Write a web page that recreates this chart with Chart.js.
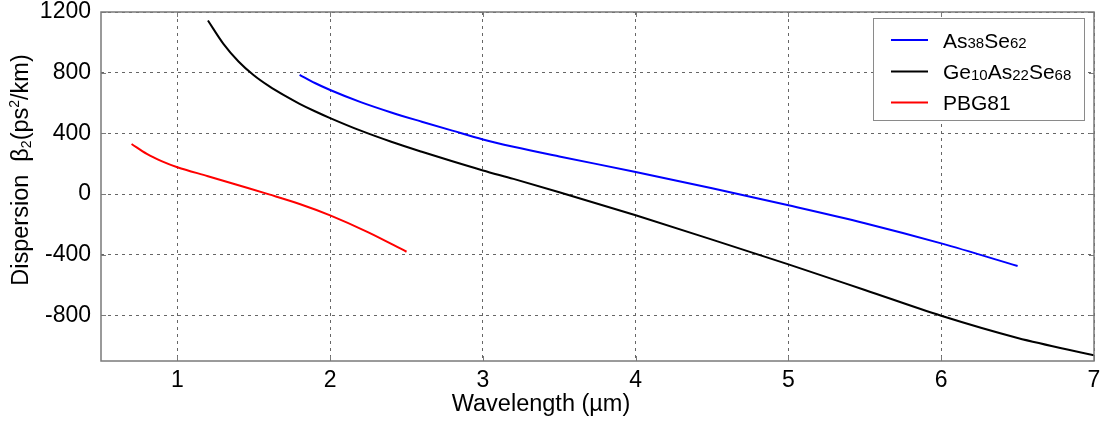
<!DOCTYPE html>
<html>
<head>
<meta charset="utf-8">
<script src="https://cdn.jsdelivr.net/npm/chart.js@4.4.0/dist/chart.umd.min.js"></script>
<style>
	body { margin: 0; background: #fff; }
	#wrap { width: 1101px; height: 433px; }
</style>
</head>
<body>
<div id="wrap"><canvas id="dispersionChart"></canvas></div>
<script>
// As38Se62
const asSeWavelength = [1.8, 1.9, 2.0, 2.2, 2.4, 2.6, 2.8, 3.0, 3.2, 3.5, 4.0, 4.5, 5.0, 5.5, 6.0, 6.5];
const asSeDispersion = [786, 732, 686, 606, 538, 477, 418, 360, 312, 248, 146, 38, -74, -192, -325, -474];

// Ge10As22Se68
const geAsSeWavelength = [1.2, 1.3, 1.4, 1.5, 1.6, 1.7, 1.8, 1.9, 2.0, 2.2, 2.4, 2.6, 2.8, 3.0, 3.2, 3.5, 4.0, 4.5, 5.0, 5.5, 6.0, 6.5, 7.0];
const geAsSeDispersion = [1144, 992, 874, 783, 711, 650, 595, 546, 501, 418, 345, 279, 216, 156, 100, 12, -140, -300, -463, -632, -802, -948, -1062];

// PBG81
const pbgWavelength = [0.7, 0.8, 0.9, 1.0, 1.2, 1.4, 1.6, 1.8, 2.0, 2.25, 2.5];
const pbgDispersion = [330, 265, 216, 177, 118, 58, -2, -65, -140, -252, -380];

// axes
const xTicks = [1, 2, 3, 4, 5, 6, 7];
const yTicks = [-800, -400, 0, 400, 800, 1200];

const seriesNames = ["As38Se62", "Ge10As22Se68", "PBG81"];
const seriesColors = ["#0000ff", "#000000", "#ff0000"];
// legend text pieces, true = subscript
const legendParts = [
	[["As", false], ["38", true], ["Se", false], ["62", true]],
	[["Ge", false], ["10", true], ["As", false], ["22", true], ["Se", false], ["68", true]],
	[["PBG81", false]],
];

const FONT = "'Liberation Sans', Arial, sans-serif";
const FRAME = "#7a7a7a";

function toPoints(xs, ys) {
	return xs.map((x, i) => ({ x: x, y: ys[i] }));
}

// frame, inner ticks, legend and axis titles
const decorations = {
	id: "decorations",
	afterDraw(chart) {
		const ctx = chart.ctx;
		const a = chart.chartArea;
		const xs = chart.scales.x;
		const ys = chart.scales.y;

		ctx.save();
		// small inner ticks
		ctx.strokeStyle = FRAME;
		ctx.lineWidth = 1;
		ctx.beginPath();
		xTicks.forEach((v) => {
			const px = Math.round(xs.getPixelForValue(v)) + 0.5;
			ctx.moveTo(px, a.top); ctx.lineTo(px, a.top + 5);
			ctx.moveTo(px, a.bottom); ctx.lineTo(px, a.bottom - 5);
		});
		yTicks.forEach((v) => {
			const py = Math.round(ys.getPixelForValue(v)) + 0.5;
			ctx.moveTo(a.left, py); ctx.lineTo(a.left + 5, py);
			ctx.moveTo(a.right, py); ctx.lineTo(a.right - 5, py);
		});
		ctx.stroke();

		// frame
		ctx.lineWidth = 1.5;
		ctx.strokeRect(a.left, a.top, a.right - a.left, a.bottom - a.top);

		// legend
		const lx = 873, ly = 18, lw = 211, lh = 102;
		ctx.fillStyle = "#fff";
		ctx.fillRect(lx, ly, lw, lh);
		ctx.strokeStyle = "#8a8a8a";
		ctx.lineWidth = 1;
		ctx.strokeRect(lx + 0.5, ly + 0.5, lw, lh);
		const rowY = [40, 71.5, 102.5];
		legendParts.forEach((parts, i) => {
			const y = rowY[i];
			ctx.strokeStyle = seriesColors[i];
			ctx.lineWidth = 2;
			ctx.beginPath();
			ctx.moveTo(891, y); ctx.lineTo(928, y);
			ctx.stroke();
			let tx = 943;
			ctx.fillStyle = "#000";
			ctx.textBaseline = "alphabetic";
			ctx.textAlign = "left";
			parts.forEach(([t, sub]) => {
				ctx.font = (sub ? "15px " : "21px ") + FONT;
				ctx.fillText(t, tx, y + 7.5 + (sub ? 0.5 : 0));
				tx += ctx.measureText(t).width;
			});
		});

		// x title
		ctx.fillStyle = "#000";
		ctx.font = "23.5px " + FONT;
		ctx.textAlign = "center";
		ctx.textBaseline = "alphabetic";
		ctx.fillText("Wavelength (\u00b5m)", 541, 411);

		// y title, rotated
		const yParts = [
			["Dispersion  \u03b2", 0, 23.5],
			["2", 3, 14],
			["(ps", 0, 23.5],
			["2", -9, 14],
			["/km)", 0, 23.5],
		];
		let total = 0;
		yParts.forEach(([t, off, size]) => {
			ctx.font = size + "px " + FONT;
			total += ctx.measureText(t).width;
		});
		ctx.translate(28, 170);
		ctx.rotate(-Math.PI / 2);
		ctx.textAlign = "left";
		let cx = -total / 2;
		yParts.forEach(([t, off, size]) => {
			ctx.font = size + "px " + FONT;
			ctx.fillText(t, cx, off);
			cx += ctx.measureText(t).width;
		});
		ctx.restore();
	},
};

function drawChart() {
	const ctx = document.getElementById("dispersionChart").getContext("2d");
	const xData = [asSeWavelength, geAsSeWavelength, pbgWavelength];
	const yData = [asSeDispersion, geAsSeDispersion, pbgDispersion];

	new Chart(ctx, {
		type: "scatter",
		data: {
			datasets: seriesNames.map((name, i) => ({
				label: name,
				data: toPoints(xData[i], yData[i]),
				showLine: true,
				borderColor: seriesColors[i],
				backgroundColor: seriesColors[i],
				borderWidth: 2,
				pointRadius: 0,
				cubicInterpolationMode: "monotone",
			})),
		},
		options: {
			responsive: true,
			maintainAspectRatio: false,
			animation: false,
			layout: { padding: { top: 12, right: 7, left: 0, bottom: 0 } },
			plugins: {
				legend: { display: false },
				tooltip: { enabled: false },
			},
			scales: {
				x: {
					type: "linear",
					min: 0.5,
					max: 7,
					afterBuildTicks: (s) => { s.ticks = xTicks.map((v) => ({ value: v })); },
					afterFit: (s) => {
						s.height = 72;
						s.paddingLeft = 0;
						s.paddingRight = 0;
					},
					ticks: {
						color: "#000",
						padding: 8,
						font: { family: FONT, size: 23, lineHeight: 1 },
						callback: (v) => String(v),
					},
					grid: { color: "#666", lineWidth: 1, drawTicks: false },
					border: { display: false, dash: [3, 4] },
				},
				y: {
					type: "linear",
					min: -1100,
					max: 1200,
					afterBuildTicks: (s) => { s.ticks = yTicks.map((v) => ({ value: v })); },
					afterFit: (s) => {
						s.width = 101;
						s.paddingTop = 0;
						s.paddingBottom = 0;
					},
					ticks: {
						color: "#000",
						padding: 10,
						font: { family: FONT, size: 23, lineHeight: 1 },
						callback: (v) => String(v),
					},
					grid: { color: "#666", lineWidth: 1, drawTicks: false },
					border: { display: false, dash: [3, 4] },
				},
			},
		},
		plugins: [decorations],
	});
}

document.addEventListener("DOMContentLoaded", drawChart);
</script>
</body>
</html>
